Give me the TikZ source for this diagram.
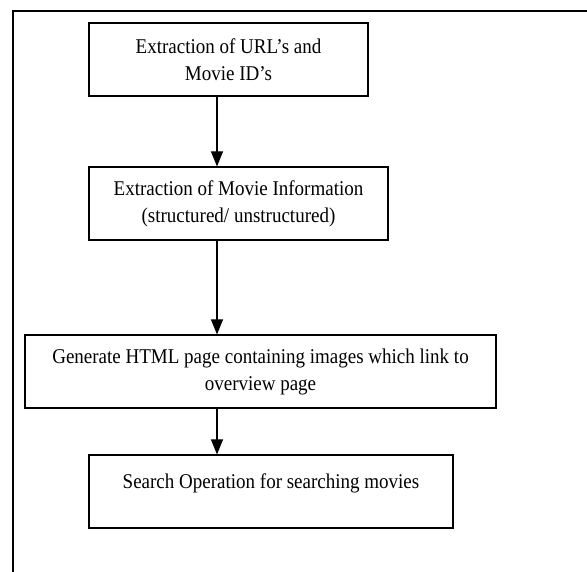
\documentclass[tikz,border=0pt]{standalone}
\usepackage{fontspec}
\setmainfont[FakeStretch=0.905]{Liberation Serif}
\usetikzlibrary{arrows.meta}
\begin{document}
\begin{tikzpicture}[x=1pt,y=-1pt,
  stage/.style={draw, line width=1.2pt, inner sep=0pt, align=center,
    minimum height=73pt, font=\fontsize{21}{27}\selectfont},
  flow/.style={line width=1.1pt, -{Triangle[width=12pt,length=15pt]}}]
\useasboundingbox (0,0) rectangle (587,571);
% outer frame (left and top edges)
\draw[line width=1.2pt] (13,580) -- (13,11) -- (590,11);
% process stages
\node[stage, minimum width=279pt] (s1) at (228.5,59.5)
  {Extraction of URL’s and\\Movie ID’s};
\node[stage, minimum width=299pt] (s2) at (238.5,203.5)
  {Extraction of Movie Information\\(structured/ unstructured)};
\node[stage, minimum width=471pt] (s3) at (260.5,371.5)
  {Generate HTML page containing images which link to\\overview page};
\node[stage, minimum width=364pt, text depth=20pt] (s4) at (271,491.5)
  {Search Operation for searching movies};
% flow arrows
\coordinate (ax) at (217,0);
\draw[flow] (s1.south -| ax) -- (s2.north -| ax);
\draw[flow] (s2.south -| ax) -- (s3.north -| ax);
\draw[flow] (s3.south -| ax) -- (s4.north -| ax);
\end{tikzpicture}
\end{document}
